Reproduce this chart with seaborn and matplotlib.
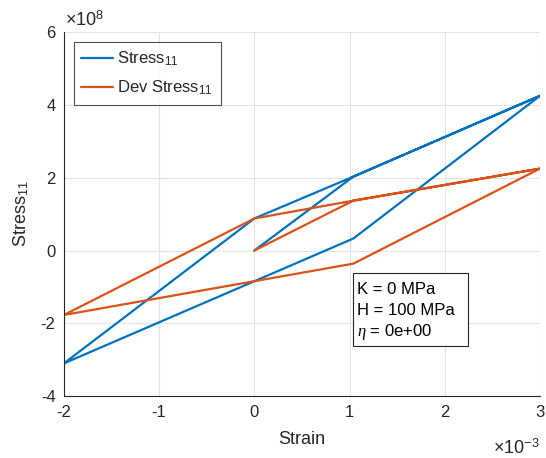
import numpy as np
import pandas as pd
import matplotlib
matplotlib.use("Agg")
import matplotlib.pyplot as plt
import seaborn as sns
from matplotlib.ticker import FuncFormatter
from matplotlib.patches import Rectangle

# Data (strain, stress)
strain_path = [0.0, 1.04e-3, 3.0e-3, 1.04e-3, -2.0e-3, 0.0, 1.04e-3, 3.0e-3]
stress11 = [0.0, 2.03e8, 4.25e8, 0.33e8, -3.10e8, 0.88e8, 2.03e8, 4.25e8]
dev_stress11 = [0.0, 1.37e8, 2.25e8, -0.36e8, -1.77e8, 0.88e8, 1.37e8, 2.25e8]
series_names = ["Stress$_{11}$", "Dev Stress$_{11}$"]
colors = ["#0072BD", "#D95319"]
x_ticks = [-2e-3, -1e-3, 0, 1e-3, 2e-3, 3e-3]
y_ticks = [-4e8, -2e8, 0, 2e8, 4e8, 6e8]
x_scale_exp = -3
y_scale_exp = 8
info_lines = ["K = 0 MPa", "H = 100 MPa", r"$\eta$ = 0e+00"]

sns.set_style("white")
plt.rcParams["font.family"] = ["Liberation Sans", "DejaVu Sans"]
plt.rcParams["mathtext.fontset"] = "custom"
plt.rcParams["mathtext.rm"] = "Liberation Sans"
plt.rcParams["mathtext.it"] = "Liberation Serif:italic"
plt.rcParams["axes.unicode_minus"] = False

df = pd.DataFrame({
    "Strain": strain_path * 2,
    "Stress": stress11 + dev_stress11,
    "series": [series_names[0]] * len(strain_path) + [series_names[1]] * len(strain_path),
})

fig = plt.figure(figsize=(5.46, 4.58), dpi=100)
ax = fig.add_axes([0.117, 0.135, 0.872, 0.795])

sns.lineplot(data=df, x="Strain", y="Stress", hue="series", palette=colors,
             sort=False, estimator=None, linewidth=1.6, ax=ax, legend=True)

ax.set_xlim(-2e-3, 3e-3)
ax.set_ylim(-4e8, 6e8)
ax.set_xticks(x_ticks)
ax.set_yticks(y_ticks)
ax.xaxis.set_major_formatter(FuncFormatter(lambda v, p: "%g" % round(v / 10.0 ** x_scale_exp, 6)))
ax.yaxis.set_major_formatter(FuncFormatter(lambda v, p: "%g" % round(v / 10.0 ** y_scale_exp, 6)))

ax.grid(True, color="#e3e3e3", linewidth=0.8)
ax.set_axisbelow(True)
for s in ["top", "right"]:
    ax.spines[s].set_visible(False)
for s in ["left", "bottom"]:
    ax.spines[s].set_color("#262626")
    ax.spines[s].set_linewidth(0.8)
ax.tick_params(direction="in", length=4, width=0.8, colors="#262626", labelsize=12, pad=6)

# exponent multipliers
ax.text(0.002, 1 + 6 / 364, r"$\times$10$^{%d}$" % y_scale_exp, transform=ax.transAxes,
        fontsize=13, ha="left", va="baseline", color="#262626")
ax.text(1.0, -58 / 364, r"$\times$10$^{%d}$" % x_scale_exp, transform=ax.transAxes,
        fontsize=13, ha="right", va="baseline", color="#262626")

ax.set_xlabel("Strain", fontsize=13, color="#262626", labelpad=8)
ax.set_ylabel("Stress$_{11}$", fontsize=13, color="#262626", labelpad=7)

leg = ax.legend(loc="upper left", bbox_to_anchor=(0.021, 0.973), borderaxespad=0,
                fontsize=12, frameon=True, fancybox=False, edgecolor="#262626",
                handlelength=1.9, handletextpad=0.25, borderpad=0.45, labelspacing=0.65)
leg.get_frame().set_linewidth(0.8)

# information box
ax.add_patch(Rectangle((0.6065, 0.1374), 0.2425, 0.2013, transform=ax.transAxes,
                       facecolor="white", edgecolor="#262626", linewidth=0.8, zorder=5))
for txt, yy in zip(info_lines, [0.294, 0.2343, 0.1766]):
    ax.text(0.6155, yy, txt, transform=ax.transAxes, fontsize=12, va="center",
            ha="left", color="black", zorder=6)

fig.savefig("out.png", dpi=100)
